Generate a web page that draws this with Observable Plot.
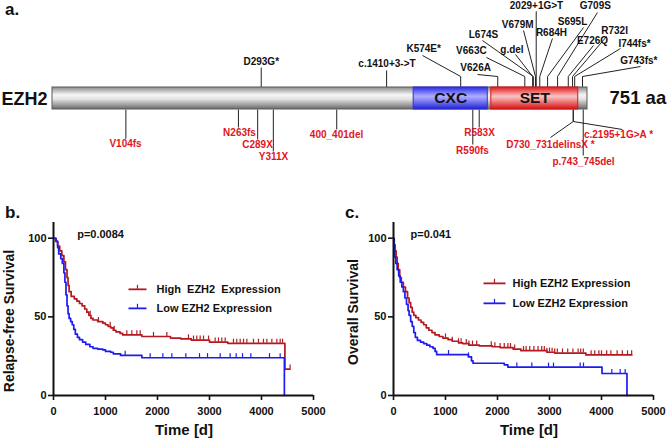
<!DOCTYPE html>
<html><head><meta charset="utf-8">
<script src="https://cdn.jsdelivr.net/npm/d3@7"></script>
<script src="https://cdn.jsdelivr.net/npm/@observablehq/plot@0.6"></script>
<style>
body{margin:0;background:#fff;}
#fig{position:relative;width:669px;height:439px;overflow:hidden;background:#fff;font-family:"Liberation Sans",Arial,sans-serif;color:#111;}
.pane{position:absolute;}
.plab{position:absolute;font-weight:bold;font-size:17px;line-height:normal;white-space:nowrap;}
.ylab{position:absolute;font-weight:bold;font-size:14px;line-height:1;white-space:nowrap;transform:translate(-50%,-50%) rotate(-90deg);}
.xlab{position:absolute;font-weight:bold;font-size:15px;line-height:1;white-space:nowrap;transform:translate(-50%,0);}
svg [aria-label^="x-axis"] path, svg [aria-label^="x-axis"] line, svg [aria-label^="y-axis"] path, svg [aria-label^="y-axis"] line{stroke-width:1.6px;}
</style>
</head><body>
<div id="fig"></div>
<script>
// ---------------- Panel a data ----------------
const proteinName = "EZH2";
const proteinLength = 751;
const domainNames = ["CXC", "SET"];
const domainStart = [507, 616];
const domainEnd = [611, 738];
const topMutations = ["D293G*", "c.1410+3->T", "K574E*", "V626A", "V663C", "L674S", "g.del", "V679M", "2029+1G>T", "R684H", "S695L", "G709S", "E726Q", "R732I", "I744fs*", "G743fs*"];
const topMutationPos = [293, 469, 573, 625, 663, 675, 674, 678, 679, 684, 695, 709, 724, 730, 733, 744];
const bottomMutations = ["V104fs", "N263fs", "C289X", "Y311X", "400_401del", "R590fs", "R583X", "D730_731delinsX *", "c.2195+1G>A *", "p.743_745del"];
const bottomMutationPos = [103, 261, 288, 310, 399, 590, 599, 731, 731, 745];

// label layout (x in residue units, y in px from top of panel)
const topLabelX = [293, 469.5, 521, 594, 588, 605, 645, 653, 679.4, 700.4, 730, 762, 758, 789, 817, 823];
const topLabelY = [64, 66, 51, 70, 53, 37, 52, 27, 8, 35, 24, 8, 43, 33, 46, 63];
const topLeaderX = [293, 469, 519.4, 596.6, 609.2, 603.6, 650, 661.2, 679.4, 701.8, 745.4, 765, 759.4, 777.7, 797.3, 825.4];
const topLeaderY = [67, 70, 55, 74, 57, 40, 54, 30, 11, 38, 27, 12, 45, 36, 48, 66];
const topStemTop = [67, 70, 76, 76, 76, 76, 76, 76, 11, 76, 76, 76, 76, 76, 76, 76];
const bottomLabelX = [102.5, 262.5, 287.8, 310.2, 398.7, 589.6, 599.4, 699, 794.5, 745.4];
const bottomLabelY = [146, 135, 147, 159, 137, 153, 135, 147, 137, 164];
const bottomStemEnd = [138, 127, 139, 151, 129, 144, 127, 121, 121, 155];
const bottomLeaderX = [102.5, 261, 288, 310, 399, 590, 599, 699, 800, 745];
const bottomLeaderY = [138, 127, 139, 151, 129, 144, 127, 137, 129, 155];

// ---------------- Panels b / c data ----------------
const xTicks = [0, 1000, 2000, 3000, 4000, 5000];
const yTicks = [0, 50, 100];

const rfsHighT = [0, 40, 80, 120, 160, 200, 230, 260, 280, 300, 340, 400, 450, 500, 550, 600, 640, 680, 720, 760, 850, 950, 1000, 1050, 1100, 1150, 1200, 1280, 1330, 1700, 2250, 2450, 2650, 3000, 3350, 4450, 4550];
const rfsHighS = [100, 98, 95, 92, 89, 85, 80, 75, 70, 66, 63, 61.5, 60, 58.5, 57, 55, 53, 51, 49, 48, 47, 46, 45, 44, 43, 41.5, 40.5, 39.5, 38.5, 37.5, 36.5, 36, 35.2, 34, 33.2, 16.8, 16.8];
const rfsHighCensor = [705, 865, 1090, 1167, 1410, 1506, 1603, 1667, 1923, 2180, 2596, 2692, 2756, 2820, 2885, 2981, 3109, 3173, 3237, 3301, 3461, 3525, 3590, 3654, 3718, 3846, 3942, 4038, 4103, 4199, 4295, 4359, 4404, 4550];
const rfsLowT = [0, 50, 80, 100, 140, 170, 200, 220, 240, 260, 280, 300, 330, 360, 390, 420, 460, 500, 560, 620, 700, 760, 850, 950, 1000, 1100, 1150, 1290, 1700, 4440];
const rfsLowS = [100, 98, 94, 90, 87, 84, 78, 72, 64, 57, 52, 49, 47, 45, 42, 39, 37, 35.5, 34, 32.5, 31, 30, 29.5, 29, 28, 27.5, 26.5, 25.5, 24, 0];
const rfsLowCensor = [1378, 1859, 2103, 2276, 2545, 2808, 2962, 3205, 3397, 3513, 3635, 3795, 4154, 4359];

const osHighT = [0, 15, 30, 50, 70, 90, 120, 150, 190, 230, 270, 300, 330, 360, 390, 430, 480, 530, 580, 630, 680, 740, 800, 880, 950, 1050, 1130, 1250, 1330, 1450, 1650, 1900, 2050, 2300, 2450, 2950, 3100, 3700, 4583];
const osHighS = [100, 96, 92, 88, 84, 80, 75, 72, 69, 66, 62, 59, 56, 53, 51, 49.5, 48, 46.5, 45, 43, 41.5, 40, 38.5, 37.5, 36.5, 35.5, 34.5, 33.5, 33, 32, 31.5, 31, 30.5, 29.5, 28.5, 27.5, 27, 25.8, 25.8];
const osHighCensor = [1000, 1130, 1250, 1300, 1400, 1450, 1520, 1600, 1880, 1950, 2050, 2130, 2200, 2250, 2330, 2500, 2550, 2620, 2700, 2780, 2850, 2900, 2950, 3000, 3050, 3100, 3150, 3250, 3350, 3450, 3550, 3600, 3650, 3800, 3870, 3950, 4000, 4100, 4180, 4300, 4400, 4500, 4580];
const osLowT = [0, 10, 25, 45, 70, 100, 130, 160, 190, 220, 250, 280, 300, 330, 360, 390, 420, 460, 520, 580, 640, 700, 760, 800, 830, 1440, 1500, 1530, 2130, 2200, 4010, 4490];
const osLowS = [100, 95, 88, 84, 80, 76, 72, 69, 66, 62, 58, 54, 51, 47, 44, 40, 37, 35, 34, 33, 32, 31, 30, 28, 26, 24.5, 22, 20.5, 19.5, 18, 14, 0];
const osLowCensor = [1058, 1442, 2372, 2660, 2981, 3077, 3590, 3654, 4199, 4359, 4455];

const legendLabelsB = ["High\u00a0 EZH2\u00a0 Expression", "Low EZH2 Expression"];
const legendLabelsC = ["High EZH2 Expression", "Low EZH2 Expression"];
const pValueB = "p=0.0084";
const pValueC = "p=0.041";
const yTitleB = "Relapse-free Survival";
const yTitleC = "Overall Survival";
const xTitle = "Time [d]";

// ---------------- styles ----------------
const RED = "#b3191f", BLUE = "#1c1cf0", LABRED = "#e0161e";
const FONT = "'Liberation Sans', Arial, sans-serif";

const fig = document.getElementById("fig");
function place(el, left, top) { const d = document.createElement("div"); d.className = "pane"; d.style.left = left + "px"; d.style.top = top + "px"; d.appendChild(el); fig.appendChild(d); }
function html(cls, text, left, top) { const d = document.createElement("div"); d.className = cls; d.textContent = text; d.style.left = left + "px"; d.style.top = top + "px"; fig.appendChild(d); }

// ---------------- Panel a ----------------
const barTop = 87, barBottom = 109;
const bar = [{name: proteinName, start: 0, end: proteinLength}];
const domains = domainNames.map((n, i) => ({name: n, start: domainStart[i], end: domainEnd[i]}));
const segs = [];
topMutations.forEach((m, i) => {
  segs.push({x1: topMutationPos[i], y1: barTop, x2: topMutationPos[i], y2: topStemTop[i]});
  segs.push({x1: topMutationPos[i], y1: topStemTop[i], x2: topLeaderX[i], y2: topLeaderY[i]});
});
bottomMutations.forEach((m, i) => {
  segs.push({x1: bottomMutationPos[i], y1: barBottom, x2: bottomMutationPos[i], y2: bottomStemEnd[i]});
  segs.push({x1: bottomMutationPos[i], y1: bottomStemEnd[i], x2: bottomLeaderX[i], y2: bottomLeaderY[i]});
});
const topLab = topMutations.map((m, i) => ({m, x: topLabelX[i], y: topLabelY[i]}));
const botLab = bottomMutations.map((m, i) => ({m, x: bottomLabelX[i], y: bottomLabelY[i]}));

const svgA = Plot.plot({
  width: 669, height: 175,
  marginLeft: 0, marginRight: 0, marginTop: 0, marginBottom: 0,
  x: {domain: [0, proteinLength], range: [52, 587], axis: null},
  y: {domain: [0, 175], range: [0, 175], axis: null},
  style: {fontFamily: FONT, background: "transparent", overflow: "visible"},
  marks: [
    Plot.link(segs, {x1: "x1", y1: "y1", x2: "x2", y2: "y2", stroke: "#222", strokeWidth: 1}),
    Plot.rect(bar, {x1: "start", x2: "end", y1: () => barTop, y2: () => barBottom, fill: "url(#gGrey)", stroke: "#5a5a5a", strokeWidth: 1}),
    Plot.rect(domains, {x1: "start", x2: "end", y1: () => barTop, y2: () => barBottom, fill: d => d.name === "CXC" ? "url(#gBlue)" : "url(#gRed)", stroke: d => d.name === "CXC" ? "#2e2ed8" : "#d81818", strokeWidth: 1}),
    Plot.text(domains, {x: d => (d.start + d.end) / 2, y: () => 98, text: "name", fontSize: 15.5, fontWeight: "bold", fill: "#111", lineAnchor: "middle"}),
    Plot.text(bar, {x: () => -7, y: () => 104, text: "name", fontSize: 18, fontWeight: "bold", fill: "#111", textAnchor: "end", lineAnchor: "bottom"}),
    Plot.text(bar, {x: () => 782, y: () => 103, text: d => d.end + " aa", fontSize: 18.5, fontWeight: "bold", fill: "#111", textAnchor: "start", lineAnchor: "bottom"}),
    Plot.text(topLab, {x: "x", y: "y", text: "m", fontSize: 10, fontWeight: "bold", fill: "#111", lineAnchor: "bottom"}),
    Plot.text(botLab, {x: "x", y: "y", text: "m", fontSize: 10, fontWeight: "bold", fill: LABRED, lineAnchor: "bottom"})
  ]
});
{
  const defs = d3.select(svgA).insert("defs", ":first-child");
  const grad = (id, stops) => {
    const g = defs.append("linearGradient").attr("id", id).attr("x1", 0).attr("y1", 0).attr("x2", 0).attr("y2", 1);
    stops.forEach(([o, c]) => g.append("stop").attr("offset", o).attr("stop-color", c));
  };
  grad("gGrey", [[0, "#8a8a8a"], [0.35, "#f4f4f4"], [0.55, "#e4e4e4"], [1, "#6a6a6a"]]);
  grad("gBlue", [[0, "#2a2ae8"], [0.42, "#aeaeff"], [0.6, "#8888f8"], [1, "#2020d4"]]);
  grad("gRed", [[0, "#e01818"], [0.42, "#fac4c4"], [0.6, "#f09090"], [1, "#d41010"]]);
}
place(svgA, 0, 0);

// ---------------- KM panels ----------------
function survAt(T, S, t) { let s = S[0]; for (let i = 0; i < T.length; i++) { if (T[i] <= t) s = S[i]; else break; } return s; }

function kmPlot(cfg) {
  const hi = cfg.hiT.map((t, i) => ({t, s: cfg.hiS[i]}));
  const lo = cfg.loT.map((t, i) => ({t, s: cfg.loS[i]}));
  const hiC = cfg.hiC.map(t => ({t, s: survAt(cfg.hiT, cfg.hiS, t)}));
  const loC = cfg.loC.map(t => ({t, s: survAt(cfg.loT, cfg.loS, t)}));
  const leg = cfg.legend.map((label, i) => ({label, color: i === 0 ? RED : BLUE, y: cfg.legY[i]}));
  return Plot.plot({
    width: cfg.width, height: 224,
    marginLeft: cfg.ml, marginRight: cfg.mr, marginTop: 7, marginBottom: 44,
    x: {domain: [0, 5000], ticks: xTicks, tickSize: 5, tickPadding: 7, tickFormat: d => `${d}`, label: null},
    y: {domain: [0, 110], ticks: yTicks, tickSize: 5, tickPadding: 2, tickFormat: d => `${d}`, label: null},
    style: {fontFamily: FONT, fontSize: "11px", fontWeight: "bold", background: "transparent", color: "#111", overflow: "visible"},
    marks: [
      Plot.line(hi, {x: "t", y: "s", curve: "step-after", stroke: RED, strokeWidth: 1.7}),
      Plot.line(lo, {x: "t", y: "s", curve: "step-after", stroke: BLUE, strokeWidth: 1.7}),
      Plot.ruleX(hiC, {x: "t", y1: "s", y2: d => d.s + 2.6, stroke: RED, strokeWidth: 1.2}),
      Plot.ruleX(loC, {x: "t", y1: "s", y2: d => d.s + 2.6, stroke: BLUE, strokeWidth: 1.2}),
      Plot.ruleY([0], {stroke: "#111", strokeWidth: 2}),
      Plot.ruleX([0], {stroke: "#111", strokeWidth: 2}),
      Plot.link(leg, {x1: () => cfg.legX[0], x2: () => cfg.legX[1], y1: "y", y2: "y", stroke: "color", strokeWidth: 1.8}),
      Plot.ruleX(leg, {x: () => (cfg.legX[0] + cfg.legX[1]) / 2, y1: "y", y2: d => d.y + 2.6, stroke: "color", strokeWidth: 1.2}),
      Plot.text(leg, {x: () => cfg.legTextX, y: "y", text: "label", textAnchor: "start", lineAnchor: "middle", fontSize: 11, fontWeight: "bold", fill: "#111"}),
      Plot.text([cfg.p], {x: () => cfg.pX, y: () => 100, text: d => d, textAnchor: "start", lineAnchor: "bottom", fontSize: 11, fontWeight: "bold", fill: "#111"})
    ]
  });
}

const svgB = kmPlot({width: 335, ml: 53, mr: 22, hiT: rfsHighT, hiS: rfsHighS, hiC: rfsHighCensor, loT: rfsLowT, loS: rfsLowS, loC: rfsLowCensor,
  legend: legendLabelsB, legY: [67.5, 55.4], legX: [1442, 1788], legTextX: 1981, p: pValueB, pX: 455});
place(svgB, 0, 215);
const svgC = kmPlot({width: 334, ml: 58, mr: 16, hiT: osHighT, hiS: osHighS, hiC: osHighCensor, loT: osLowT, loS: osLowS, loC: osLowCensor,
  legend: legendLabelsC, legY: [71.3, 58.6], legX: [1731, 2154], legTextX: 2288, p: pValueC, pX: 327});
place(svgC, 335, 215);

// titles / panel letters
html("plab", "a.", 5, 0);
html("plab", "b.", 5, 203);
html("plab", "c.", 345, 203);
html("ylab", yTitleB, 9, 321);
html("ylab", yTitleC, 353, 312);
html("xlab", xTitle, 184, 422);
html("xlab", xTitle, 529, 422);
</script>
</body></html>
